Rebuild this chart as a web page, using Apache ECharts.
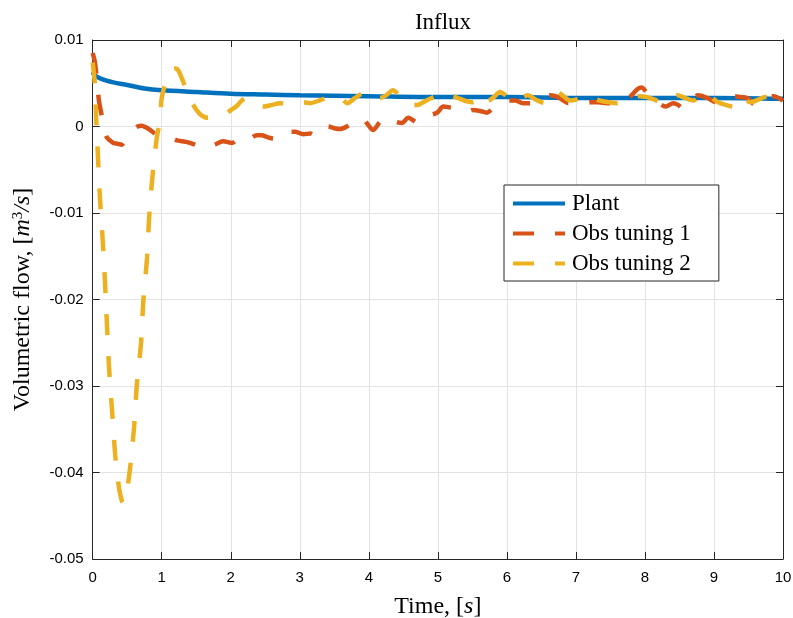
<!DOCTYPE html>
<html>
<head>
<meta charset="utf-8">
<script src="https://cdn.jsdelivr.net/npm/echarts@6/dist/echarts.min.js"></script>
<style>
  html, body { margin: 0; padding: 0; background: #ffffff; }
  #chart { width: 793px; height: 618px; }
</style>
</head>
<body>
<div id="chart"></div>
<script>
// Axis ticks
const xTicks = [0, 1, 2, 3, 4, 5, 6, 7, 8, 9, 10];
const yTicks = [-0.05, -0.04, -0.03, -0.02, -0.01, 0, 0.01];
const yTickLabels = ['-0.05', '-0.04', '-0.03', '-0.02', '-0.01', '0', '0.01'];

// Plant influx [m^3/s] vs time [s]
const plantT = [0, 0.02, 0.05, 0.1, 0.2, 0.3, 0.5, 0.75, 1, 1.5, 2, 2.5, 3, 4, 5, 6, 7, 8, 9, 10];
const plantV = [0.0063, 0.0060, 0.0058, 0.0056, 0.0053, 0.0051, 0.0048, 0.0044, 0.0042, 0.0040, 0.0038, 0.0037, 0.0036, 0.0035, 0.0034, 0.0034, 0.0033, 0.0033, 0.0033, 0.0032];

// Observer, tuning 1
const obs1T = [0, 0.03, 0.06, 0.09, 0.13, 0.16, 0.20, 0.25, 0.30, 0.36, 0.42, 0.50, 0.58, 0.65, 0.71, 0.77, 0.83, 0.90, 0.98, 1.09, 1.22, 1.30, 1.37, 1.48, 1.60, 1.68, 1.77, 1.89, 2.02, 2.08, 2.13, 2.23, 2.38, 2.45, 2.52, 2.62, 2.76, 2.85, 2.93, 3.05, 3.15, 3.22, 3.30, 3.41, 3.50, 3.58, 3.68, 3.77, 3.90, 3.98, 4.06, 4.16, 4.26, 4.37, 4.48, 4.57, 4.72, 4.80, 4.89, 4.99, 5.08, 5.18, 5.28, 5.42, 5.51, 5.61, 5.71, 5.80, 5.93, 6.02, 6.12, 6.23, 6.36, 6.48, 6.63, 6.74, 6.82, 6.89, 7.01, 7.13, 7.22, 7.32, 7.45, 7.59, 7.68, 7.78, 7.89, 7.95, 8.03, 8.12, 8.20, 8.30, 8.41, 8.48, 8.55, 8.63, 8.77, 8.90, 9.04, 9.20, 9.30, 9.38, 9.48, 9.60, 9.67, 9.74, 9.86, 10.0];
const obs1V = [0.0085, 0.0075, 0.0055, 0.0030, 0.0013, 0.0000, -0.0012, -0.0016, -0.0019, -0.0020, -0.0021, -0.0012, -0.0004, 0.0000, 0.0001, -0.0001, -0.0004, -0.0008, -0.0010, -0.0012, -0.0016, -0.0017, -0.0018, -0.0021, -0.0025, -0.0024, -0.0021, -0.0017, -0.0019, -0.0016, -0.0013, -0.0016, -0.0010, -0.0010, -0.0012, -0.0014, -0.0006, -0.0006, -0.0006, -0.0009, -0.0008, -0.0010, -0.0010, 0.0000, -0.0002, -0.0003, 0.0000, 0.0005, 0.0010, 0.0003, -0.0004, 0.0005, 0.0011, 0.0006, 0.0004, 0.0010, 0.0004, 0.0009, 0.0013, 0.0016, 0.0023, 0.0022, 0.0021, 0.0017, 0.0019, 0.0018, 0.0016, 0.0021, 0.0027, 0.0030, 0.0030, 0.0027, 0.0027, 0.0030, 0.0036, 0.0034, 0.0030, 0.0027, 0.0027, 0.0027, 0.0028, 0.0028, 0.0027, 0.0027, 0.0030, 0.0034, 0.0043, 0.0045, 0.0039, 0.0032, 0.0027, 0.0023, 0.0027, 0.0025, 0.0021, 0.0027, 0.0036, 0.0033, 0.0028, 0.0034, 0.0035, 0.0034, 0.0033, 0.0025, 0.0029, 0.0034, 0.0035, 0.0030];

// Observer, tuning 2
const obs2T = [0, 0.03, 0.05, 0.077, 0.106, 0.145, 0.178, 0.207, 0.236, 0.28, 0.323, 0.36, 0.395, 0.44, 0.48, 0.54, 0.60, 0.64, 0.70, 0.735, 0.787, 0.82, 0.87, 0.93, 0.975, 1.00, 1.07, 1.15, 1.20, 1.24, 1.32, 1.40, 1.48, 1.56, 1.67, 1.78, 1.89, 2.00, 2.09, 2.16, 2.24, 2.35, 2.47, 2.60, 2.71, 2.82, 2.93, 3.05, 3.15, 3.28, 3.40, 3.49, 3.58, 3.69, 3.80, 3.90, 3.99, 4.08, 4.16, 4.25, 4.35, 4.43, 4.52, 4.62, 4.71, 4.81, 4.91, 5.02, 5.13, 5.22, 5.32, 5.42, 5.51, 5.62, 5.73, 5.81, 5.90, 6.00, 6.09, 6.20, 6.30, 6.42, 6.55, 6.64, 6.73, 6.82, 6.92, 7.04, 7.16, 7.25, 7.35, 7.48, 7.60, 7.70, 7.80, 7.92, 8.03, 8.14, 8.25, 8.36, 8.47, 8.58, 8.70, 8.78, 8.87, 8.96, 9.06, 9.17, 9.28, 9.38, 9.53, 9.64, 9.74, 9.86, 10.0];
const obs2V = [0.0074, 0.0050, 0.0010, -0.0036, -0.0084, -0.0132, -0.0180, -0.0230, -0.0278, -0.0328, -0.0377, -0.0405, -0.0424, -0.0435, -0.0428, -0.0396, -0.0347, -0.0298, -0.0250, -0.0200, -0.0152, -0.0102, -0.0054, -0.0012, 0.0007, 0.0033, 0.0054, 0.0066, 0.0067, 0.0065, 0.0050, 0.0033, 0.0022, 0.0014, 0.0010, 0.0011, 0.0013, 0.0019, 0.0024, 0.0030, 0.0033, 0.0028, 0.0023, 0.0025, 0.0027, 0.0026, 0.0028, 0.0028, 0.0027, 0.0030, 0.0033, 0.0031, 0.0033, 0.0027, 0.0033, 0.0038, 0.0040, 0.0036, 0.0033, 0.0036, 0.0042, 0.0037, 0.0030, 0.0025, 0.0025, 0.0029, 0.0033, 0.0036, 0.0038, 0.0035, 0.0032, 0.0029, 0.0028, 0.0037, 0.0030, 0.0034, 0.0040, 0.0035, 0.0030, 0.0032, 0.0036, 0.0031, 0.0027, 0.0033, 0.0040, 0.0035, 0.0030, 0.0032, 0.0036, 0.0033, 0.0030, 0.0028, 0.0027, 0.0030, 0.0033, 0.0035, 0.0034, 0.0031, 0.0027, 0.0032, 0.0036, 0.0033, 0.0030, 0.0034, 0.0039, 0.0034, 0.0028, 0.0025, 0.0023, 0.0034, 0.0028, 0.0031, 0.0034, 0.0033, 0.0032];

const zip = (t, v) => t.map((x, i) => [x, v[i]]);

const AX = '#262626';
const GRID = '#e3e3e3';
const SERIF = '"Liberation Serif", "Times New Roman", serif';
const SANS = '"Liberation Sans", Arial, Helvetica, sans-serif';

const fmtY = (v) => {
  const i = yTicks.findIndex(t => Math.abs(t - v) < 1e-9);
  return i >= 0 ? yTickLabels[i] : '';
};

const chart = echarts.init(document.getElementById('chart'), null, { renderer: 'canvas' });

// Box frame: top and right axes carry inward ticks only
const frameAxis = {
  axisLine: { show: true, onZero: false, lineStyle: { color: AX, width: 1 } },
  axisTick: { show: true, inside: true, length: 7, lineStyle: { color: AX } },
  axisLabel: { show: false },
  splitLine: { show: false }
};

const option = {
  animation: false,
  backgroundColor: '#ffffff',
  title: {
    text: 'Influx',
    left: 438,
    top: 6,
    textAlign: 'center',
    textStyle: { fontFamily: SERIF, fontWeight: 'normal', fontSize: 23, color: '#000' }
  },
  grid: { left: 92.7, right: 10, top: 40, bottom: 59, containLabel: false, outerBoundsMode: 'none' },
  legend: {
    orient: 'vertical',
    left: 504,
    top: 185,
    padding: [7, 28, 6, 7],
    itemGap: 7,
    itemWidth: 52,
    itemHeight: 14,
    backgroundColor: '#ffffff',
    borderColor: AX,
    borderWidth: 1,
    borderRadius: 0,
    itemStyle: { opacity: 0 },
    lineStyle: { width: 4 },
    textStyle: { fontFamily: SERIF, fontSize: 23, color: '#000', padding: [0, 0, 0, 2] },
    data: ['Plant', 'Obs tuning 1', 'Obs tuning 2']
  },
  xAxis: [
    {
      type: 'value', min: 0, max: 10, interval: 1,
      name: 'Time, [{it|s}]',
      nameLocation: 'middle',
      nameGap: 36,
      nameTextStyle: {
        fontFamily: SERIF, fontSize: 24, color: '#000',
        rich: { it: { fontFamily: SERIF, fontSize: 24, fontStyle: 'italic', color: '#000' } }
      },
      axisLine: { show: true, onZero: false, lineStyle: { color: AX, width: 1 } },
      axisTick: { show: true, inside: true, length: 7, lineStyle: { color: AX } },
      axisLabel: {
        fontFamily: SANS, fontSize: 15, color: '#000', margin: 11,
        formatter: (v) => String(v)
      },
      splitLine: { show: true, lineStyle: { color: GRID, width: 1 } }
    },
    Object.assign({ type: 'value', position: 'top', min: 0, max: 10, interval: 1 }, frameAxis)
  ],
  yAxis: [
    {
      type: 'value', min: -0.05, max: 0.01, interval: 0.01,
      name: 'Volumetric flow, [{it|m}{sup|3}{it|/s}]',
      nameLocation: 'middle',
      nameGap: 58,
      nameRotate: 90,
      nameTextStyle: {
        fontFamily: SERIF, fontSize: 24, color: '#000',
        rich: {
          it: { fontFamily: SERIF, fontSize: 24, fontStyle: 'italic', color: '#000' },
          sup: { fontFamily: SERIF, fontSize: 15, color: '#000', verticalAlign: 'top', padding: [0, 0, 8, 0] }
        }
      },
      axisLine: { show: true, onZero: false, lineStyle: { color: AX, width: 1 } },
      axisTick: { show: true, inside: true, length: 7, lineStyle: { color: AX } },
      axisLabel: { fontFamily: SANS, fontSize: 15, color: '#000', margin: 9, formatter: fmtY },
      splitLine: { show: true, lineStyle: { color: GRID, width: 1 } }
    },
    Object.assign({ type: 'value', position: 'right', min: -0.05, max: 0.01, interval: 0.01 }, frameAxis)
  ],
  series: [
    {
      name: 'Plant', type: 'line', data: zip(plantT, plantV),
      showSymbol: false, symbol: 'none', smooth: 0.3,
      lineStyle: { color: '#0072BD', width: 4.5 },
      itemStyle: { color: '#0072BD' }
    },
    {
      name: 'Obs tuning 1', type: 'line', data: zip(obs1T, obs1V),
      showSymbol: false, symbol: 'none', smooth: 0.3,
      lineStyle: { color: '#D95319', width: 4.5, type: [21, 21] },
      itemStyle: { color: '#D95319' }
    },
    {
      name: 'Obs tuning 2', type: 'line', data: zip(obs2T, obs2V),
      showSymbol: false, symbol: 'none', smooth: 0.3,
      lineStyle: { color: '#EDB120', width: 4.5, type: [21, 21] },
      itemStyle: { color: '#EDB120' }
    }
  ]
};

chart.setOption(option);
</script>
</body>
</html>
